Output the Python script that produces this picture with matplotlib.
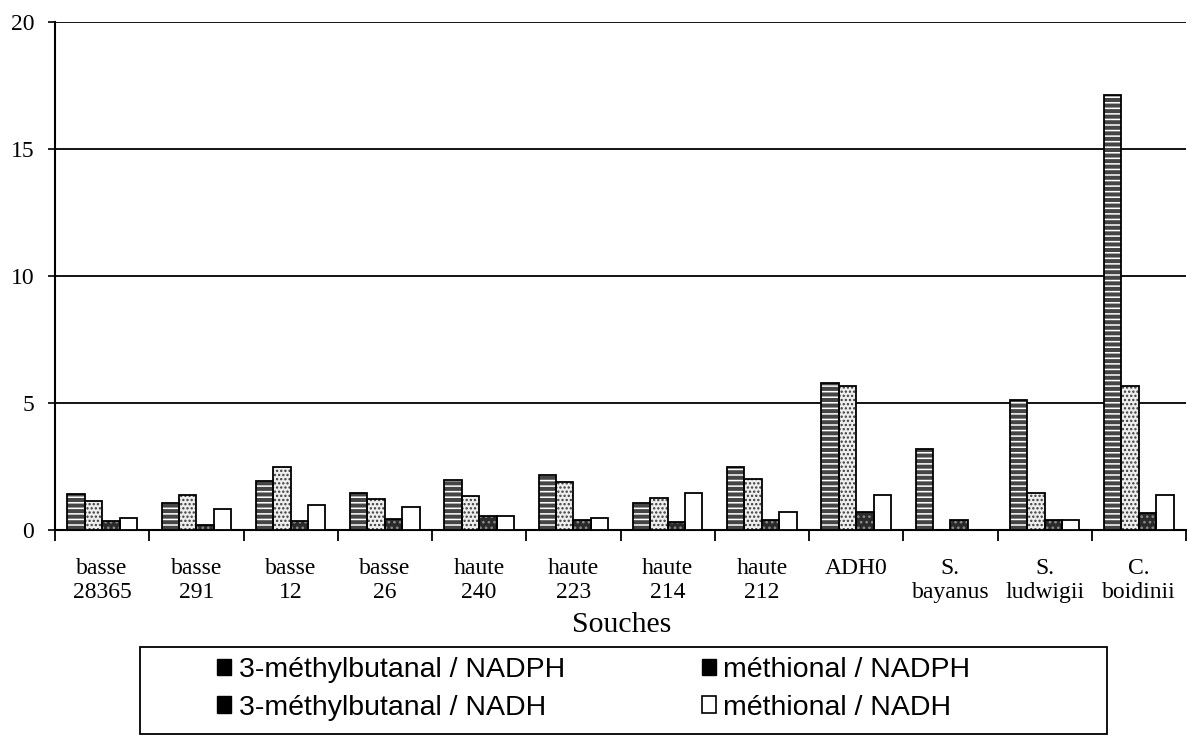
import matplotlib
matplotlib.use("Agg")
import matplotlib.pyplot as plt
from matplotlib.patches import Patch, Rectangle
import numpy as np

# souches (x categories)
souches = ["basse\n28365", "basse\n291", "basse\n12", "basse\n26",
           "haute\n240", "haute\n223", "haute\n214", "haute\n212",
           "ADH0", "S.\nbayanus", "S.\nludwigii", "C.\nboidinii"]

# values
mb_nadph = [1.41, 1.08, 1.91, 1.45, 1.96, 2.18, 1.07, 2.50, 5.80, 3.18, 5.10, 17.12]
mb_nadh = [1.16, 1.39, 2.50, 1.21, 1.33, 1.88, 1.25, 2.01, 5.68, 0.0, 1.45, 5.65]
met_nadph = [0.37, 0.21, 0.37, 0.43, 0.56, 0.38, 0.30, 0.39, 0.70, 0.41, 0.38, 0.68]
met_nadh = [0.47, 0.82, 0.97, 0.92, 0.56, 0.48, 1.44, 0.72, 1.38, 0.0, 0.38, 1.38]

labels = ["3-méthylbutanal / NADPH", "3-méthylbutanal / NADH",
          "méthional / NADPH", "méthional / NADH"]

plt.rcParams['hatch.linewidth'] = 1.1
fig = plt.figure(figsize=(11.9, 7.4), dpi=100)
ax = fig.add_axes([55/1190, 1-530/740, 1131/1190, 508/740])

x = np.arange(len(souches))
w = 0.185
series = [mb_nadph, mb_nadh, met_nadph, met_nadh]
# (face, hatch, hatch colour)
styles = [('#454545', '---', 'white'),
          ('#eeeeee', '....', '#3a3a3a'),
          ('#2a2a2a', '...', '#8a8a8a'),
          ('white', '', 'white')]

for i, (vals, st) in enumerate(zip(series, styles)):
    pos = x + (i - 1.5) * w
    ax.bar(pos, vals, w, color=st[0], hatch=st[1], edgecolor=st[2], linewidth=0, zorder=3)
    ax.bar(pos, vals, w, fill=False, edgecolor='black', linewidth=1.3, zorder=4)

ax.set_xlim(-0.5, 11.5)
ax.set_ylim(0, 20)
ax.set_yticks([0, 5, 10, 15, 20])
ax.set_xticks(x)
ax.set_xticklabels(souches, fontsize=17, family='Liberation Serif', linespacing=1.2)
ax.set_xticks(np.arange(-0.5, 12, 1), minor=True)
ax.tick_params(axis='x', which='major', length=0, pad=20)
ax.tick_params(axis='x', which='minor', length=8, width=1.3, direction='out')
ax.tick_params(axis='y', length=5, width=1.2, pad=10, labelsize=17)
for t in ax.get_yticklabels():
    t.set_family('Liberation Serif')

ax.yaxis.grid(True, color='black', linewidth=1.3, zorder=1)
ax.set_axisbelow(True)
for s in ['top', 'right']:
    ax.spines[s].set_visible(False)
ax.spines['left'].set_linewidth(1.5)
ax.spines['bottom'].set_linewidth(1.5)

fig.text(622/1190, 1-625/740, "Souches", ha='center', va='center',
         fontsize=21.5, family='Liberation Serif')

# legend (scan shows plain squares)
handles = [Patch(facecolor='black', edgecolor='black'),
           Patch(facecolor='black', edgecolor='black'),
           Patch(facecolor='black', edgecolor='black'),
           Patch(facecolor='white', edgecolor='black', linewidth=1.2)]
leg = fig.legend(handles, labels,
                 ncol=2, loc='center left', bbox_to_anchor=(203/1190, 1-689/740),
                 frameon=False, prop={'family': 'Liberation Sans', 'size': 20.5},
                 handlelength=0.5, handleheight=0.5, handletextpad=0.25,
                 columnspacing=4.8, labelspacing=0.4, borderpad=0)
fig.patches.append(Rectangle((140/1190, 6/740), 967/1190, 87/740, fill=False,
                             edgecolor='black', linewidth=1.3, transform=fig.transFigure))

fig.savefig("out.png", dpi=100)
